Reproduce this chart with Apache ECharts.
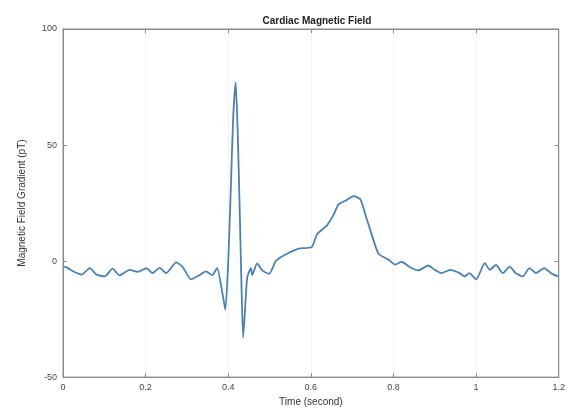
<!DOCTYPE html>
<html>
<head>
<meta charset="utf-8">
<script src="https://cdn.jsdelivr.net/npm/echarts@6/dist/echarts.min.js"></script>
<style>
  html, body { margin: 0; padding: 0; background: #fff; }
  #chart { width: 568px; height: 412px; }
</style>
</head>
<body>
<div id="chart"></div>
<script>
// time (second) and field gradient (pT)
var times = [0, 0.009, 0.024, 0.045, 0.065, 0.081, 0.101, 0.12, 0.137, 0.161,
  0.181, 0.202, 0.217, 0.234, 0.25, 0.274, 0.289, 0.31, 0.33, 0.346,
  0.361, 0.373, 0.386, 0.393, 0.4, 0.406, 0.412, 0.418, 0.423, 0.428,
  0.432, 0.436, 0.441, 0.446, 0.455, 0.458, 0.47, 0.482, 0.499, 0.515,
  0.53, 0.546, 0.57, 0.602, 0.615, 0.639, 0.655, 0.667, 0.684, 0.704,
  0.72, 0.732, 0.747, 0.764, 0.788, 0.804, 0.819, 0.843, 0.86, 0.884,
  0.9, 0.916, 0.937, 0.96, 0.972, 0.984, 1.0, 1.021, 1.033, 1.048,
  1.065, 1.081, 1.096, 1.113, 1.129, 1.145, 1.165, 1.181, 1.198]
var field = [-2.4, -2.7, -4.4, -5.8, -3, -5.8, -6.6, -3.3, -6.2, -3.8,
  -4.6, -3.1, -5.2, -2.9, -5.2, -0.6, -2.4, -7.9, -6.1, -4.4,
  -6.1, -3, -14, -21, 0, 30, 62, 77, 55, 20,
  -10, -33, -20, -7, -3, -6, -1, -4, -5.5, 0,
  2, 3.5, 5.4, 6, 11.6, 15.4, 20, 24.4, 26, 28,
  26.5, 20, 11.6, 3.1, 0.6, -1.5, -0.3, -3, -4, -1.9,
  -3.8, -5.2, -3.8, -5.2, -6.6, -5.2, -7.9, -0.9, -3.8, -1.7,
  -5.2, -2.4, -5.2, -6.6, -3, -5.2, -3, -5.2, -6.6]

var points = times.map(function (t, i) { return [t, field[i]] })

var labelStyle = { color: '#444', fontSize: 9, fontFamily: 'Liberation Sans, Arial, sans-serif' }
var axisLineStyle = { onZero: false, lineStyle: { color: '#8a8a8a', width: 1 } }
var tickStyle = { inside: true, length: 4, lineStyle: { color: '#8a8a8a' } }

var chart = echarts.init(document.getElementById('chart'))
chart.setOption({
  animation: false,
  backgroundColor: '#fff',
  title: {
    text: 'Cardiac Magnetic Field',
    left: 312,
    textAlign: 'center',
    top: 11,
    textStyle: { fontSize: 10, fontWeight: 'bold', color: '#222', fontFamily: 'Liberation Sans, Arial, sans-serif' }
  },
  grid: { left: 63, right: 7, top: 29, bottom: 30, show: true, borderColor: '#8a8a8a', borderWidth: 1 },
  xAxis: [{
    type: 'value',
    min: 0,
    max: 1.2,
    interval: 0.2,
    name: 'Time (second)',
    nameLocation: 'middle',
    nameGap: 17,
    nameTextStyle: { color: '#333', fontSize: 10, fontFamily: 'Liberation Sans, Arial, sans-serif' },
    axisLine: axisLineStyle,
    axisTick: tickStyle,
    axisLabel: Object.assign({ margin: 6, formatter: function (v) { return +v.toFixed(1) } }, labelStyle),
    splitLine: { show: true, lineStyle: { color: '#f3f3f3' } }
  }, {
    type: 'value',
    position: 'top',
    min: 0,
    max: 1.2,
    interval: 0.2,
    axisLine: axisLineStyle,
    axisTick: tickStyle,
    axisLabel: { show: false },
    splitLine: { show: false }
  }],
  yAxis: [{
    type: 'value',
    min: -50,
    max: 100,
    interval: 50,
    name: 'Magnetic Field Gradient (pT)',
    nameLocation: 'middle',
    nameGap: 36,
    nameTextStyle: { color: '#333', fontSize: 10, fontFamily: 'Liberation Sans, Arial, sans-serif' },
    axisLine: axisLineStyle,
    axisTick: tickStyle,
    axisLabel: Object.assign({ margin: 6 }, labelStyle),
    splitLine: { show: false }
  }, {
    type: 'value',
    position: 'right',
    min: -50,
    max: 100,
    interval: 50,
    axisLine: axisLineStyle,
    axisTick: tickStyle,
    axisLabel: { show: false },
    splitLine: { show: false }
  }],
  series: [{
    type: 'line',
    data: points,
    showSymbol: false,
    smooth: 0.2,
    lineStyle: { color: '#4a82b4', width: 1.8 },
    xAxisIndex: 0,
    yAxisIndex: 0
  }]
})
</script>
</body>
</html>
